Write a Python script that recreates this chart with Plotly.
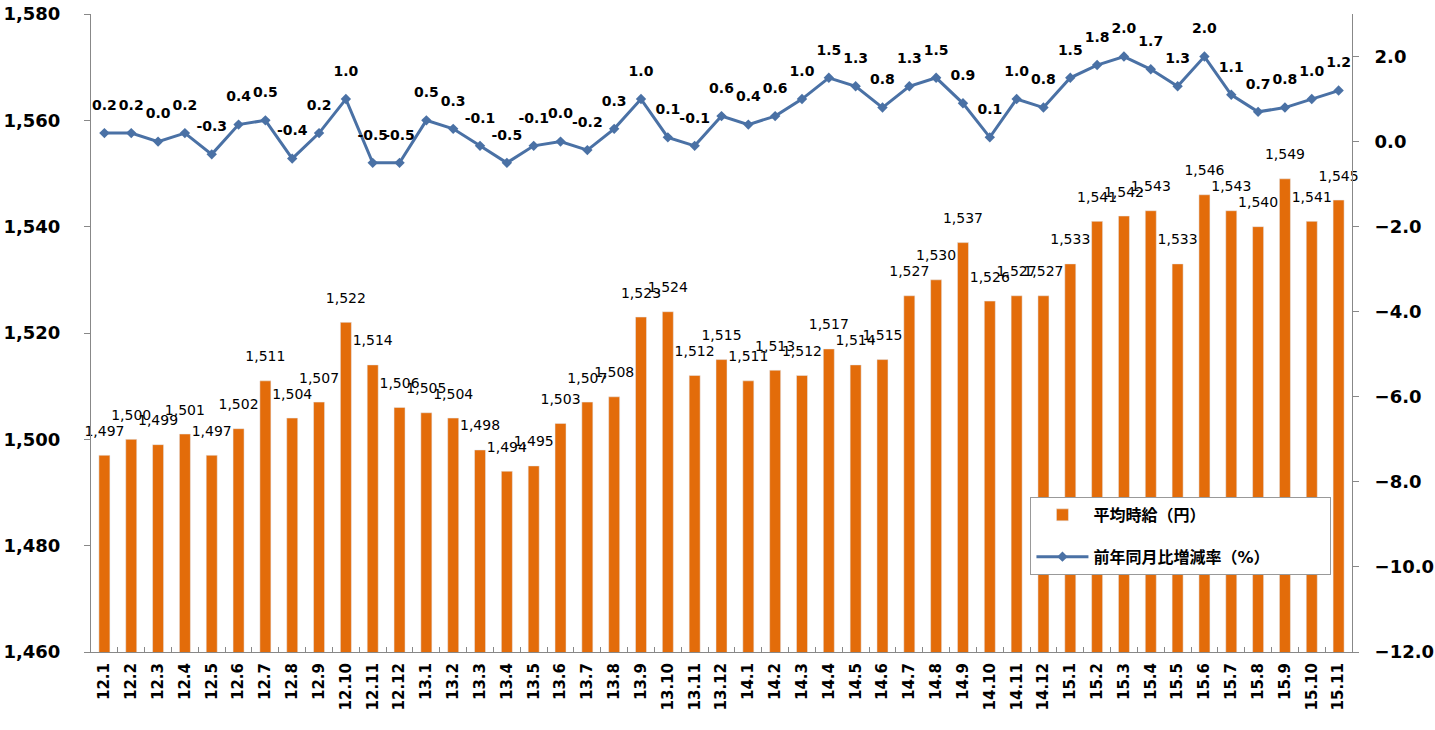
import plotly.graph_objects as go

months = ["12.1","12.2","12.3","12.4","12.5","12.6","12.7","12.8","12.9","12.10","12.11","12.12",
          "13.1","13.2","13.3","13.4","13.5","13.6","13.7","13.8","13.9","13.10","13.11","13.12",
          "14.1","14.2","14.3","14.4","14.5","14.6","14.7","14.8","14.9","14.10","14.11","14.12",
          "15.1","15.2","15.3","15.4","15.5","15.6","15.7","15.8","15.9","15.10","15.11"]

wage = [1497,1500,1499,1501,1497,1502,1511,1504,1507,1522,1514,1506,
        1505,1504,1498,1494,1495,1503,1507,1508,1523,1524,1512,1515,
        1511,1513,1512,1517,1514,1515,1527,1530,1537,1526,1527,1527,
        1533,1541,1542,1543,1533,1546,1543,1540,1549,1541,1545]

yoy = [0.2,0.2,0.0,0.2,-0.3,0.4,0.5,-0.4,0.2,1.0,-0.5,-0.5,
       0.5,0.3,-0.1,-0.5,-0.1,0.0,-0.2,0.3,1.0,0.1,-0.1,0.6,
       0.4,0.6,1.0,1.5,1.3,0.8,1.3,1.5,0.9,0.1,1.0,0.8,
       1.5,1.8,2.0,1.7,1.3,2.0,1.1,0.7,0.8,1.0,1.2]

left_ticks = [1460,1480,1500,1520,1540,1560,1580]
right_ticks = [-12,-10,-8,-6,-4,-2,0,2]

FONT = "DejaVu Sans, Verdana, Noto Sans CJK JP, sans-serif"
ORANGE = "#E36C0A"
BLUE = "#4A71A5"
PAD = "\u00a0" * 10

fig = go.Figure()
fig.add_trace(go.Bar(
    x=months, y=wage, name="平均時給（円）", marker_color=ORANGE,
    legendgroup="a", hoverinfo="x+y",
))
# data labels for the bars (invisible spacer markers give the label offset)
fig.add_trace(go.Scatter(
    x=months, y=wage, mode="markers+text", showlegend=False, hoverinfo="skip",
    marker=dict(size=24, opacity=0),
    texttemplate="%{y:,.0f}", textposition="top center", cliponaxis=False,
    textfont=dict(size=14, color="black", family=FONT),
))
fig.add_trace(go.Scatter(
    x=months, y=yoy, name="前年同月比増減率（%）" + PAD, yaxis="y2",
    mode="lines+markers", line=dict(color=BLUE, width=3),
    marker=dict(symbol="diamond", size=8, color=BLUE),
    legendgroup="b", cliponaxis=False,
))
fig.add_trace(go.Scatter(
    x=months, y=yoy, yaxis="y2", mode="markers+text", showlegend=False,
    hoverinfo="skip", marker=dict(size=30, opacity=0),
    texttemplate="<b>%{y:.1f}</b>", textposition="top center", cliponaxis=False,
    textfont=dict(size=14, color="black", family=FONT),
))

fig.update_layout(
    width=1435, height=730,
    margin=dict(l=91, r=83, t=14, b=78, autoexpand=False),
    plot_bgcolor="white", paper_bgcolor="white",
    font=dict(family=FONT, color="black"),
    bargap=0.59,
    showlegend=True,
    legend=dict(x=0.745, y=0.243, xanchor="left", yanchor="top",
                bgcolor="white", bordercolor="#999999", borderwidth=1,
                font=dict(size=16, family=FONT, color="black", weight="bold"),
                tracegroupgap=18, itemwidth=52),
    xaxis=dict(type="category", range=[-0.5, len(months) - 0.5],
               tickangle=-90, showline=True, linecolor="#888888",
               ticks="inside", ticklen=5, tickcolor="#888888", tickson="boundaries",
               ticklabelstandoff=4,
               tickfont=dict(size=15, family=FONT, weight="bold"), showgrid=False),
    yaxis=dict(range=[1460,1580], tickvals=left_ticks, tickformat=",d",
               showline=True, linecolor="#888888", ticks="outside", ticklen=6,
               tickcolor="#888888", showgrid=False, zeroline=False,
               ticklabelstandoff=20,
               tickfont=dict(size=18, family=FONT, weight="bold")),
    yaxis2=dict(range=[-12,3], tickvals=right_ticks, tickformat=".1f",
                overlaying="y", side="right", showline=True, linecolor="#888888",
                ticks="outside", ticklen=6, tickcolor="#888888", showgrid=False,
                ticklabelstandoff=12,
                zeroline=False, tickfont=dict(size=18, family=FONT, weight="bold")),
)

fig.write_html("out.html", config={"displayModeBar": False},
               post_script="document.body.style.margin='0';")
